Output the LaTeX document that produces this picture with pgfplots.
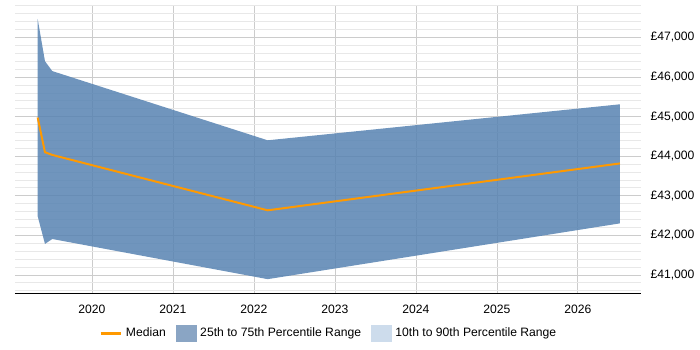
\documentclass[border=0pt]{standalone}
\usepackage{pgfplots}
\pgfplotsset{compat=1.18}
\usepackage{fontspec}
\setmainfont{Liberation Sans}
\definecolor{bandcol}{RGB}{87,131,178}
\definecolor{medcol}{RGB}{255,153,0}
\definecolor{swatchA}{RGB}{138,165,196}
\definecolor{swatchB}{RGB}{205,220,236}
\newcommand{\lblfont}{\fontsize{12.2}{14}\selectfont}
\begin{document}
\begin{tikzpicture}
\path[use as bounding box] (-15bp,-57bp) rectangle (685bp,293bp);
\begin{axis}[
  at={(0,0)}, anchor=south west,
  scale only axis,
  width=626bp, height=288bp,
  xmin=2019.05, xmax=2026.78,
  ymin=40540, ymax=47820,
  axis x line*=bottom,
  axis y line*=right,
  y axis line style={draw=none},
  xtick={2020,...,2026},
  xticklabel style={/pgf/number format/1000 sep={}, yshift=-8bp},
  ytick={41000,42000,...,47000},
  scaled y ticks=false,
  yticklabels={£41{,}000,£42{,}000,£43{,}000,£44{,}000,£45{,}000,£46{,}000,£47{,}000},
  yticklabel style={xshift=6bp},
  minor ytick={40600,40800,...,47800},
  grid=both,
  major grid style={draw=black!20, line width=0.6pt},
  minor grid style={draw=black!9, line width=0.6pt},
  tick style={draw=none},
  x axis line style={black, line width=0.8pt},
  tick label style={font=\lblfont},
  /pgf/number format/assume math mode=true,
  legend style={at={(rel axis cs:0.501,-0.139)}, anchor=center, draw=none,
    fill=none, legend columns=-1, font=\lblfont,
    /tikz/every odd column/.append style={column sep=2bp},
    /tikz/every even column/.append style={column sep=8bp}},
  legend cell align=left,
]
\addlegendimage{legend image code/.code={\draw[medcol, line width=3bp] (0bp,0bp) -- (20bp,0bp);}}
\addlegendentry{Median}
\addlegendimage{legend image code/.code={\fill[swatchA] (0bp,-8bp) rectangle (20bp,8bp);}}
\addlegendentry{25th to 75th Percentile Range}
\addlegendimage{legend image code/.code={\fill[swatchB] (0bp,-8bp) rectangle (20bp,8bp);}}
\addlegendentry{10th to 90th Percentile Range}
% interquartile band
\addplot[draw=none, fill=bandcol, fill opacity=0.85, forget plot] coordinates {
  (2019.33,47470) (2019.42,46400) (2019.51,46150) (2022.17,44400) (2026.52,45310)
  (2026.52,42300) (2022.17,40890) (2019.51,41905) (2019.42,41780) (2019.33,42480)
} -- cycle;
% median
\addplot[medcol, line width=2pt, forget plot] coordinates {
  (2019.33,44975) (2019.42,44100) (2019.51,44030) (2022.17,42630) (2026.52,43815)
};
\end{axis}
\end{tikzpicture}
\end{document}
